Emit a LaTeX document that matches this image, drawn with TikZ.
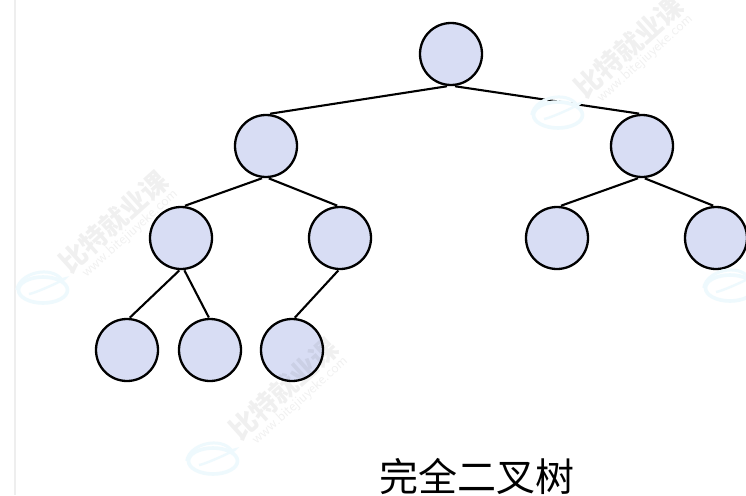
\documentclass[tikz,border=0pt]{standalone}
\usepackage{fontspec}
\newfontfamily\cjk{Noto Sans CJK SC}
\usetikzlibrary{shapes.geometric}
\definecolor{nodefill}{HTML}{D8DDF4}
\definecolor{logocyan}{HTML}{EEF9FD}
\definecolor{sidebar}{HTML}{EEEEEE}

\begin{document}
\begin{tikzpicture}[
  x=1pt, y=-1pt,
  treenode/.style={draw=black, circle, line width=2.3pt, fill=nodefill, minimum size=62pt, inner sep=0pt, outer sep=1.5pt},
  edge/.style={draw=black, line width=2.1pt},
  mark text/.style={rotate=42, text=black, text opacity=0.06, font=\cjk\bfseries\fontsize{27}{27}\selectfont, inner sep=0pt},
  mark url/.style={rotate=42, text=black, text opacity=0.06, font=\sffamily\fontsize{14.5}{14.5}\selectfont, inner sep=0pt},
  logo/.style={draw=logocyan, ellipse, line width=3.6pt, minimum width=49pt, minimum height=26pt, inner sep=0pt}
]
  \useasboundingbox (0,0) rectangle (746,495);
  \fill[white] (0,0) rectangle (746,495);
  \fill[sidebar] (14,0) rectangle (16,495);

  % level 0
  \node[treenode] (root) at (451,54) {};

  % level 1
  \node[treenode] (l) at (266,146) {};
  \node[treenode] (r) at (642,146) {};

  % level 2
  \node[treenode] (ll) at (181,238) {};
  \node[treenode] (lr) at (340,238) {};
  \node[treenode] (rl) at (557,238) {};
  \node[treenode] (rr) at (716,238) {};

  % level 3
  \node[treenode] (lll) at (127,350) {};
  \node[treenode] (llr) at (210,350) {};
  \node[treenode] (lrl) at (292,350) {};

  \draw[edge] (root.263) -- (l.83);
  \draw[edge] (root.277) -- (r.95);
  \draw[edge] (l.263) -- (ll.83);
  \draw[edge] (l.275) -- (lr.95);
  \draw[edge] (r.263) -- (rl.83);
  \draw[edge] (r.275) -- (rr.95);
  \draw[edge] (ll.267) -- (lll.85);
  \draw[edge] (ll.276) -- (llr.92);
  \draw[edge] (lr.267) -- (lrl.85);

  % caption
  \node[font=\cjk\fontsize{39}{39}\selectfont] (title) at (477,476) {完全二叉树};

  % watermark
  \foreach \name/\tx/\ty/\ux/\uy in {a/114/222/130/234, b/284/389/300/401, c/629/47/645/59} {
    \node[mark text] (mark\name) at (\tx,\ty) {比特就业课};
    \node[mark url] (url\name) at (\ux,\uy) {www.bitejiuyeke.com};
  }
  \foreach \name/\lx/\ly in {a/43/290, b/213/461, c/558/115, d/730/288} {
    \node[logo] (logo\name) at (\lx,\ly) {};
    \draw[logocyan, line width=3pt] (logo\name.west) .. controls +(3,-18) and +(-10,-14) .. (logo\name.north east);
    \draw[logocyan, line width=2.4pt] (logo\name.center) ++(-14,4) .. controls +(8,-1) and +(16,-6) .. (logo\name.north east);
  }
\end{tikzpicture}
\end{document}
